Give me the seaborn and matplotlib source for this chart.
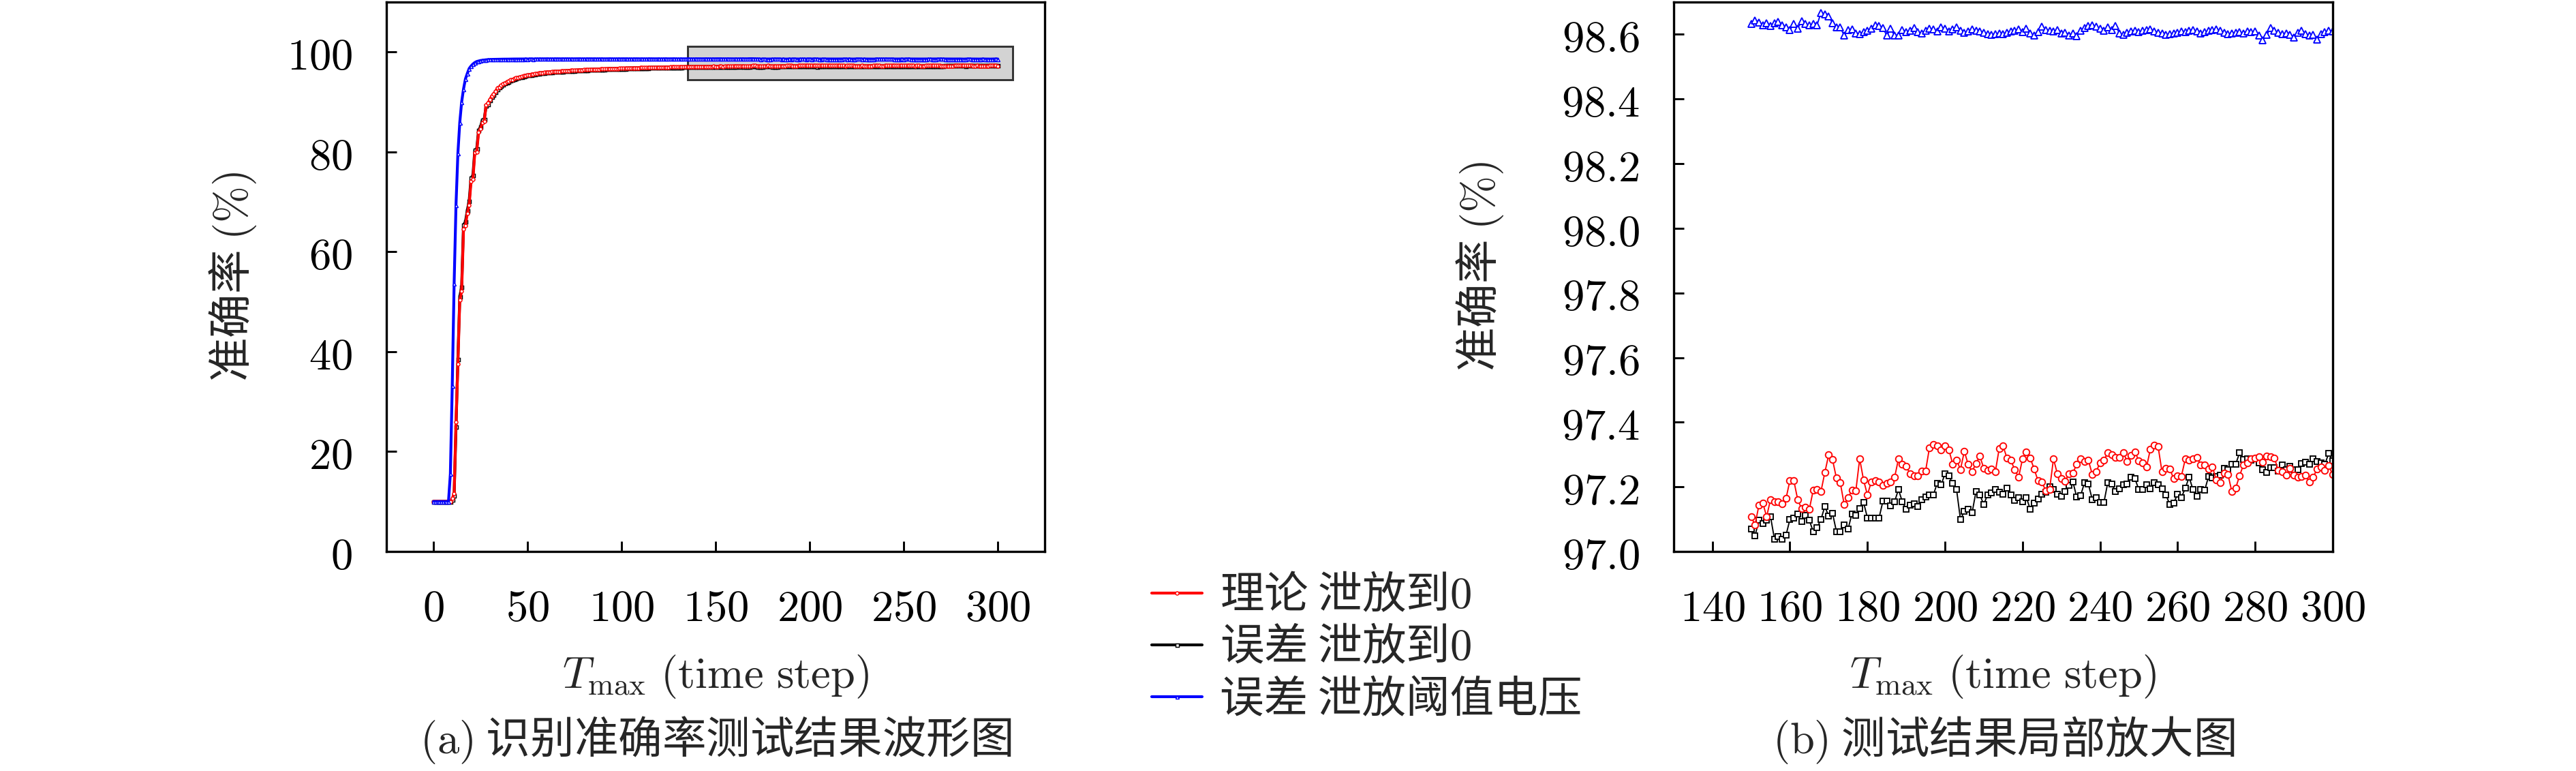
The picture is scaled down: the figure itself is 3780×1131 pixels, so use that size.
import numpy as np
import pandas as pd
import matplotlib
matplotlib.use("Agg")
import matplotlib.pyplot as plt
from matplotlib.patches import Rectangle
from matplotlib.ticker import FuncFormatter, MultipleLocator
import seaborn as sns

# ---- data ----
steps_head = list(range(0, 150))
steps_tail = list(range(150, 301))

red_head = [
    10.0, 10.0, 10.0, 10.0, 10.0, 10.0, 10.0, 10.0, 10.0, 10.0,
    10.6, 11.6, 25.9, 37.6, 50.3, 52.1, 64.5, 65.2, 67.7, 69.4,
    74.1, 74.5, 79.9, 80.0, 83.9, 84.6, 85.9, 86.1, 89.4, 89.8,
    90.5, 91.2, 91.6, 92.1, 92.8, 93.0, 93.3, 93.6, 93.8, 94.0,
    94.2, 94.4, 94.5, 94.7, 94.8, 94.9, 95.0, 95.1, 95.2, 95.3,
    95.4, 95.45, 95.5, 95.6, 95.65, 95.7, 95.75, 95.8, 95.85, 95.9,
    95.95, 95.98, 96.0, 96.05, 96.08, 96.1, 96.12, 96.15, 96.18, 96.2,
    96.22, 96.25, 96.27, 96.3, 96.32, 96.33, 96.35, 96.38, 96.4, 96.41,
    96.43, 96.45, 96.46, 96.48, 96.5, 96.52, 96.53, 96.55, 96.56, 96.58,
    96.6, 96.61, 96.62, 96.64, 96.65, 96.66, 96.68, 96.69, 96.7, 96.72,
    96.73, 96.74, 96.75, 96.76, 96.78, 96.79, 96.8, 96.81, 96.82, 96.83,
    96.84, 96.85, 96.86, 96.87, 96.88, 96.89, 96.9, 96.91, 96.92, 96.92,
    96.93, 96.94, 96.95, 96.96, 96.96, 96.97, 96.98, 96.99, 96.99, 97.0,
    97.01, 97.01, 97.02, 97.03, 97.03, 97.04, 97.04, 97.05, 97.05, 97.06,
    97.06, 97.07, 97.07, 97.08, 97.08, 97.09, 97.09, 97.1, 97.1, 97.11,
]
black_head = [
    10.0, 10.0, 10.0, 10.0, 10.0, 10.0, 10.0, 10.0, 10.0, 10.0,
    10.4, 11.2, 25.0, 38.5, 51.0, 53.0, 65.4, 66.0, 68.3, 70.2,
    74.8, 75.3, 80.4, 80.6, 84.3, 85.0, 86.4, 86.6, 89.2, 89.6,
    90.3, 91.0, 91.5, 92.0, 92.6, 92.9, 93.2, 93.5, 93.7, 93.9,
    94.1, 94.3, 94.45, 94.6, 94.75, 94.85, 94.95, 95.05, 95.15, 95.25,
    95.35, 95.4, 95.45, 95.55, 95.6, 95.65, 95.7, 95.75, 95.8, 95.85,
    95.9, 95.93, 95.96, 96.0, 96.03, 96.05, 96.07, 96.1, 96.13, 96.15,
    96.17, 96.2, 96.22, 96.25, 96.27, 96.28, 96.3, 96.33, 96.35, 96.36,
    96.38, 96.4, 96.41, 96.43, 96.45, 96.47, 96.48, 96.5, 96.51, 96.53,
    96.55, 96.56, 96.57, 96.59, 96.6, 96.61, 96.63, 96.64, 96.65, 96.67,
    96.68, 96.69, 96.7, 96.71, 96.73, 96.74, 96.75, 96.76, 96.77, 96.78,
    96.79, 96.8, 96.81, 96.82, 96.83, 96.84, 96.85, 96.86, 96.87, 96.87,
    96.88, 96.89, 96.9, 96.91, 96.91, 96.92, 96.93, 96.94, 96.94, 96.95,
    96.96, 96.96, 96.97, 96.98, 96.98, 96.99, 96.99, 97.0, 97.0, 97.01,
    97.01, 97.02, 97.02, 97.03, 97.03, 97.04, 97.04, 97.05, 97.05, 97.06,
]
blue_head = [
    10.0, 10.0, 10.0, 10.0, 10.0, 10.0, 10.0, 10.0, 10.0, 15.5,
    33.1, 53.6, 69.4, 79.7, 85.9, 90.0, 92.6, 94.6, 95.7, 96.7,
    97.2, 97.6, 97.9, 98.1, 98.2, 98.3, 98.35, 98.4, 98.45, 98.48,
    98.5, 98.52, 98.53, 98.54, 98.55, 98.55, 98.56, 98.57, 98.57, 98.58,
    98.58, 98.59, 98.59, 98.60, 98.60, 98.61, 98.60, 98.61, 98.61, 98.62,
    98.61, 98.62, 98.62, 98.61, 98.62, 98.63, 98.62, 98.62, 98.63, 98.62,
    98.63, 98.62, 98.63, 98.63, 98.62, 98.63, 98.64, 98.63, 98.62, 98.63,
    98.63, 98.64, 98.63, 98.63, 98.62, 98.63, 98.63, 98.64, 98.63, 98.62,
    98.63, 98.62, 98.63, 98.64, 98.63, 98.63, 98.62, 98.63, 98.63, 98.64,
    98.63, 98.62, 98.63, 98.63, 98.64, 98.63, 98.62, 98.63, 98.63, 98.62,
    98.63, 98.64, 98.63, 98.62, 98.63, 98.63, 98.62, 98.63, 98.64, 98.63,
    98.62, 98.63, 98.63, 98.62, 98.63, 98.64, 98.63, 98.63, 98.62, 98.63,
    98.63, 98.62, 98.63, 98.64, 98.63, 98.62, 98.63, 98.63, 98.64, 98.63,
    98.62, 98.63, 98.63, 98.62, 98.63, 98.64, 98.63, 98.63, 98.62, 98.63,
    98.63, 98.64, 98.63, 98.62, 98.63, 98.63, 98.64, 98.63, 98.62, 98.63,
]

red_tail = [
    97.108, 97.082, 97.143, 97.150, 97.108, 97.161, 97.155, 97.155, 97.148, 97.164,
    97.220, 97.220, 97.161, 97.133, 97.137, 97.130, 97.189, 97.191, 97.185, 97.244,
    97.299, 97.284, 97.227, 97.213, 97.145, 97.167, 97.189, 97.187, 97.287, 97.221,
    97.175, 97.216, 97.220, 97.216, 97.204, 97.211, 97.216, 97.229, 97.286, 97.270,
    97.263, 97.241, 97.235, 97.234, 97.249, 97.249, 97.321, 97.331, 97.326, 97.315,
    97.328, 97.315, 97.271, 97.283, 97.254, 97.310, 97.269, 97.247, 97.273, 97.295,
    97.258, 97.250, 97.255, 97.247, 97.319, 97.326, 97.289, 97.282, 97.253, 97.230,
    97.286, 97.307, 97.289, 97.256, 97.219, 97.215, 97.188, 97.193, 97.287, 97.240,
    97.225, 97.218, 97.241, 97.243, 97.270, 97.286, 97.279, 97.282, 97.239, 97.246,
    97.275, 97.282, 97.306, 97.300, 97.291, 97.291, 97.306, 97.279, 97.298, 97.309,
    97.281, 97.274, 97.261, 97.317, 97.330, 97.324, 97.246, 97.258, 97.256, 97.225,
    97.234, 97.233, 97.286, 97.282, 97.286, 97.291, 97.268, 97.267, 97.256, 97.262,
    97.221, 97.213, 97.242, 97.239, 97.186, 97.196, 97.234, 97.268, 97.275, 97.286,
    97.289, 97.293, 97.277, 97.295, 97.293, 97.289, 97.251, 97.246, 97.237, 97.258,
    97.236, 97.230, 97.232, 97.237, 97.215, 97.230, 97.255, 97.261, 97.250, 97.265,
    97.239,
]
black_tail = [
    97.069, 97.049, 97.096, 97.087, 97.097, 97.108, 97.039, 97.046, 97.039, 97.051,
    97.099, 97.104, 97.115, 97.092, 97.111, 97.097, 97.062, 97.073, 97.099, 97.139,
    97.110, 97.118, 97.062, 97.062, 97.083, 97.069, 97.117, 97.111, 97.132, 97.152,
    97.104, 97.104, 97.104, 97.104, 97.156, 97.157, 97.141, 97.154, 97.192, 97.154,
    97.130, 97.143, 97.148, 97.139, 97.161, 97.168, 97.175, 97.175, 97.211, 97.206,
    97.240, 97.234, 97.210, 97.191, 97.099, 97.124, 97.131, 97.120, 97.185, 97.175,
    97.146, 97.175, 97.182, 97.192, 97.184, 97.178, 97.196, 97.175, 97.158, 97.166,
    97.154, 97.167, 97.131, 97.149, 97.163, 97.178, 97.184, 97.200, 97.192, 97.177,
    97.170, 97.186, 97.204, 97.216, 97.168, 97.173, 97.213, 97.209, 97.161, 97.167,
    97.151, 97.151, 97.213, 97.208, 97.186, 97.194, 97.206, 97.208, 97.230, 97.226,
    97.192, 97.192, 97.206, 97.194, 97.212, 97.206, 97.194, 97.175, 97.146, 97.150,
    97.177, 97.167, 97.196, 97.230, 97.191, 97.170, 97.191, 97.189, 97.232, 97.228,
    97.233, 97.236, 97.258, 97.253, 97.270, 97.270, 97.305, 97.284, 97.286, 97.282,
    97.286, 97.274, 97.254, 97.244, 97.260, 97.260, 97.249, 97.267, 97.253, 97.263,
    97.253, 97.254, 97.272, 97.277, 97.270, 97.286, 97.279, 97.275, 97.270, 97.303,
    97.281,
]
blue_tail = [
    98.632, 98.644, 98.637, 98.628, 98.635, 98.627, 98.635, 98.639, 98.629, 98.622,
    98.614, 98.632, 98.618, 98.641, 98.632, 98.629, 98.632, 98.629, 98.667, 98.663,
    98.656, 98.635, 98.622, 98.622, 98.596, 98.614, 98.615, 98.604, 98.601, 98.607,
    98.611, 98.618, 98.628, 98.627, 98.620, 98.596, 98.618, 98.596, 98.596, 98.614, 98.607,
    98.612, 98.620, 98.608, 98.603, 98.612, 98.618, 98.615, 98.610, 98.622, 98.618,
    98.609, 98.616, 98.622, 98.612, 98.606, 98.610, 98.615, 98.612, 98.610, 98.606,
    98.602, 98.598, 98.600, 98.604, 98.602, 98.606, 98.610, 98.612, 98.616, 98.608,
    98.618, 98.603, 98.596, 98.608, 98.624, 98.614, 98.612, 98.610, 98.614, 98.603,
    98.606, 98.596, 98.604, 98.594, 98.612, 98.620, 98.626, 98.629, 98.625, 98.618,
    98.612, 98.622, 98.613, 98.627, 98.604, 98.598, 98.605, 98.610, 98.612, 98.608,
    98.611, 98.614, 98.615, 98.610, 98.606, 98.604, 98.598, 98.600, 98.604, 98.606,
    98.609, 98.608, 98.612, 98.614, 98.610, 98.604, 98.608, 98.611, 98.613, 98.615,
    98.612, 98.605, 98.600, 98.603, 98.606, 98.608, 98.604, 98.610, 98.607, 98.610,
    98.597, 98.582, 98.598, 98.620, 98.612, 98.605, 98.602, 98.604, 98.598, 98.590,
    98.606, 98.612, 98.600, 98.596, 98.598, 98.584, 98.600, 98.608, 98.612, 98.610,
]

labels = ["理论 泄放到$0$", "误差 泄放到$0$", "误差 泄放阈值电压"]
colors = ["#ff0000", "#000000", "#0000ff"]
markers = ["o", "s", "^"]

for arr in (red_head, black_head, blue_head):
    assert len(arr) == len(steps_head), len(arr)
for arr in (red_tail, black_tail, blue_tail):
    assert len(arr) == len(steps_tail), len(arr)

full = pd.DataFrame({
    "step": steps_head + steps_tail,
    "red": red_head + red_tail,
    "black": black_head + black_tail,
    "blue": blue_head + blue_tail,
})
zoom = full[full["step"] >= 150]

# ---- style ----
sns.set_style("white")
plt.rcParams["font.family"] = ["Noto Sans CJK SC", "DejaVu Sans"]
plt.rcParams["mathtext.fontset"] = "cm"

FS = 15.5
fig = plt.figure(figsize=(12.6, 3.77))
ax1 = fig.add_axes([0.1500, 0.2847, 0.2556, 0.7126])
ax2 = fig.add_axes([0.6497, 0.2847, 0.2558, 0.7126])

# left panel: full curves, thick lines with tiny markers
ax1.add_patch(Rectangle((135, 94.4), 173, 6.8, facecolor="#d3d3d3",
                        edgecolor="#333333", linewidth=0.7, zorder=1.5))
order = [1, 0, 2]  # draw black under red
handles = {}
for i in order:
    col = ["red", "black", "blue"][i]
    sns.lineplot(data=full, x="step", y=col, ax=ax1, color=colors[i],
                 marker=markers[i], markersize=1.2, markerfacecolor="white",
                 markeredgecolor=colors[i], markeredgewidth=0.35,
                 linewidth=1.0, legend=False, zorder=2)
    handles[i] = ax1.get_lines()[-1]

# right panel: zoomed region, thin lines with open markers
msizes = [2.3, 2.1, 2.5]
for i in order:
    col = ["red", "black", "blue"][i]
    sns.lineplot(data=zoom, x="step", y=col, ax=ax2, color=colors[i],
                 marker=markers[i], markersize=msizes[i], markerfacecolor="white",
                 markeredgecolor=colors[i], markeredgewidth=0.45,
                 linewidth=0.45, legend=False)

ax1.set_xlim(-25, 325)
ax1.set_ylim(0, 110)
ax1.xaxis.set_major_locator(MultipleLocator(50))
ax1.set_yticks([0, 20, 40, 60, 80, 100])
ax1.xaxis.set_major_formatter(FuncFormatter(lambda v, p: f"${v:.0f}$"))
ax1.yaxis.set_major_formatter(FuncFormatter(lambda v, p: f"${v:.0f}$"))

ax2.set_xlim(130, 300)
ax2.set_ylim(97.0, 98.7)
ax2.set_xticks(list(range(140, 301, 20)))
ax2.set_yticks([97.0, 97.2, 97.4, 97.6, 97.8, 98.0, 98.2, 98.4, 98.6])
ax2.xaxis.set_major_formatter(FuncFormatter(lambda v, p: f"${v:.0f}$"))
ax2.yaxis.set_major_formatter(FuncFormatter(lambda v, p: f"${v:.1f}$"))

for ax in (ax1, ax2):
    ax.set_xlabel("")
    ax.set_ylabel("")
    for s in ax.spines.values():
        s.set_linewidth(0.8)
        s.set_color("black")
    ax.tick_params(axis="both", direction="in", length=3.6, width=0.7,
                   pad=12, labelsize=FS, top=False, right=False,
                   left=True, bottom=True, colors="black")
    ax.text(0.5, -0.185, r"$T_{\max}\ \mathrm{(time\ step)}$", transform=ax.transAxes,
            ha="center", va="top", fontsize=FS)

ax1.text(-0.233, 0.5, "准确率 $\\mathrm{(\\%)}$", transform=ax1.transAxes,
         rotation=90, ha="center", va="center", fontsize=FS)
ax2.text(-0.294, 0.519, "准确率 $\\mathrm{(\\%)}$", transform=ax2.transAxes,
         rotation=90, ha="center", va="center", fontsize=FS)

fig.text(0.2778, 0.040, "$\\mathrm{(a)}$ 识别准确率测试结果波形图",
         ha="center", va="center", fontsize=FS)
fig.text(0.7778, 0.040, "$\\mathrm{(b)}$ 测试结果局部放大图",
         ha="center", va="center", fontsize=FS)

fig.legend([handles[0], handles[1], handles[2]], labels, loc="upper left",
           bbox_to_anchor=(0.4385, 0.285), frameon=False, borderpad=0,
           handlelength=1.15, handletextpad=0.4, labelspacing=0.15,
           fontsize=FS, numpoints=1)

fig.savefig("out.png", dpi=300)
